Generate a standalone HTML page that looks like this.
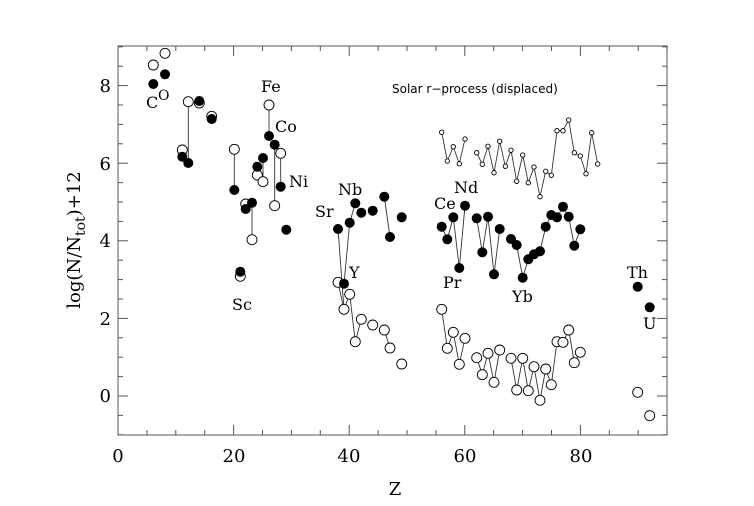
<!DOCTYPE html>
<html><head><meta charset="utf-8"><style>
html,body{margin:0;padding:0;background:#fff;}
svg{display:block;}
.s{font-family:"DejaVu Serif","Liberation Serif",serif;font-size:16px;fill:#000;}
.t{font-family:"DejaVu Serif","Liberation Serif",serif;font-size:18px;fill:#000;}
</style></head><body>
<svg id="g" width="754" height="506" viewBox="0 0 754 506" xmlns="http://www.w3.org/2000/svg">
<rect x="118" y="46" width="549" height="389" fill="none" stroke="#555" stroke-width="1"/>
<g class="t" text-anchor="middle">
<text x="118" y="462">0</text><text x="234" y="462">20</text><text x="349" y="462">40</text><text x="465" y="462">60</text><text x="581" y="462">80</text>
</g>
<g class="t" text-anchor="end">
<text x="111" y="92">8</text><text x="111" y="170">6</text><text x="111" y="247">4</text><text x="111" y="325">2</text><text x="111" y="402">0</text>
</g>
<text class="t" x="395" y="495" text-anchor="middle" font-size="20">Z</text>
<text class="t" transform="translate(80,240) rotate(-90)" text-anchor="middle" font-size="20">log(N/N<tspan font-size="14" dy="5">tot</tspan><tspan dy="-5">)+12</tspan></text>
<text x="392" y="93" font-family="DejaVu Sans,Liberation Sans,sans-serif" font-size="12">Solar r−process (displaced)</text>
<g class="s">
<text x="146" y="108">C</text><text x="158" y="100" font-size="14">O</text>
<text x="261" y="92">Fe</text><text x="275" y="132">Co</text><text x="289" y="187">Ni</text>
<text x="232" y="310">Sc</text><text x="315" y="217">Sr</text><text x="338" y="195">Nb</text><text x="349" y="278">Y</text>
<text x="434" y="209">Ce</text><text x="454" y="193">Nd</text><text x="443" y="288">Pr</text><text x="512" y="302">Yb</text>
<text x="627" y="278">Th</text><text x="643" y="329">U</text>
</g>
<g id="d"></g>
</svg>
<script>
var ns="http://www.w3.org/2000/svg",g=document.getElementById('g'),d=document.getElementById('d');
function el(n,a){var e=document.createElementNS(ns,n);for(var k in a)e.setAttribute(k,a[k]);d.appendChild(e);return e;}
for(var z=0;z<=95;z+=5){var x=118+z*5.78,L=(z%20==0)?10:5;
el('line',{x1:x,y1:435,x2:x,y2:435-L,stroke:'#555'});el('line',{x1:x,y1:46,x2:x,y2:46+L,stroke:'#555'});}
for(var v=-1;v<=9;v+=0.5){var y=396-v*38.8,L=(Math.abs(v%2)<0.01)?10:5;
el('line',{x1:118,y1:y,x2:118+L,y2:y,stroke:'#555'});el('line',{x1:667,y1:y,x2:667-L,y2:y,stroke:'#555'});}
function line(pts){el('polyline',{points:pts.map(function(p){return p.join(',')}).join(' '),fill:'none',stroke:'#333','stroke-width':0.9});}
function circ(p,r,f){el('circle',{cx:p[0],cy:p[1],r:r,fill:f?'#000':'#fff',stroke:'#000','stroke-width':f?0:0.9});}
[[188.3,163,101.7],[234.3,190,149.3],[252,202.7,239.7],[257.3,166.7,175],[263,158,181.7],[269,136,105],[274.7,144.7,205.7],[280.7,186.7,153.3]].forEach(function(a){line([[a[0],a[1]],[a[0],a[2]]]);});
line([[338,229],[344,309.3]]);line([[344,283.7],[349.7,222.7],[355.3,203.3]]);line([[384.3,196.7],[390,237]]);
var OB=[[153.3,65],[165,53.3],[182.3,150],[188.3,101.7],[199.3,103],[211.7,116.3],[234.3,149.3],[240.3,276.3],[245.7,204],[252,239.7],[257.3,175],[263,181.7],[269,105],[274.7,205.7],[280.7,153.3],[338,282.3],[344,309.3],[349.7,294.3],[355.3,341.7],[361.3,319.3],[372.7,325],[384.3,330],[390,348],[401.7,364]];
line([[338,282.3],[344,309.3],[349.7,294.3],[355.3,341.7],[361.3,319.3]]);line([[384.3,330],[390,348]]);
var LO=[[441.7,309.3],[447.3,348.3],[453.3,332.3],[459.3,364.3],[465,338.3],[476.7,357.7],[482.3,374.7],[488,353.3],[494,382.3],[499.7,350],[511,358.3],[516.7,390],[522.7,358.3],[528.3,390.7],[534,366.7],[540,400.3],[545.7,369],[551.3,384.7],[557,341.7],[563,342.3],[568.7,330],[574.3,362.7],[580.3,352.3]];
line(LO.slice(0,5));line(LO.slice(5,10));line(LO.slice(10));
var LF=[[441.7,226.7],[447.3,239.3],[453.3,217.3],[459.3,268],[465,205.7],[476.7,218.3],[482.3,252.3],[488,216.7],[494,274.3],[499.7,229],[511,239],[516.7,245],[522.7,277.7],[528.3,259.3],[534,254.3],[540,251.3],[545.7,226.7],[551.3,215],[557,217.3],[563,206.7],[568.7,216.7],[574.3,245.7],[580.3,229.3]];
line(LF.slice(0,5));line(LF.slice(5,10));line(LF.slice(10));
var SO=[[441.7,132.3],[447.3,161],[453.3,146.7],[459.3,163.7],[465,139],[476.7,152.7],[482.3,164.3],[488,146.3],[494,172.7],[499.7,141.3],[505.3,166.3],[511,150.3],[516.7,181.3],[522.7,155],[528.3,182.7],[534,167],[540,196.7],[545.7,171.3],[551.3,175.3],[557,130.7],[563,130.7],[568.7,120],[574.3,152.7],[580.3,156],[586,173.7],[591.7,132.7],[597.7,164]];
line(SO.slice(0,5));line(SO.slice(5));
OB.concat(LO,[[637.7,392.3],[649.7,415.7]]).forEach(function(p){circ(p,5,false);});
SO.forEach(function(p){circ(p,2.2,false);});
var FB=[[153.3,84],[165,74.3],[182.3,156.7],[188.3,163],[199.3,101],[211.7,119],[234.3,190],[240.3,271.7],[245.7,209],[252,202.7],[257.3,166.7],[263,158],[269,136],[274.7,144.7],[280.7,186.7],[286.3,229.7],[338,229],[344,283.7],[349.7,222.7],[355.3,203.3],[361.3,212.7],[372.7,210.7],[384.3,196.7],[390,237],[401.7,217.3],[637.7,286.7],[649.7,307.3]];
FB.concat(LF).forEach(function(p){circ(p,5,true);});
</script>
</body></html>
